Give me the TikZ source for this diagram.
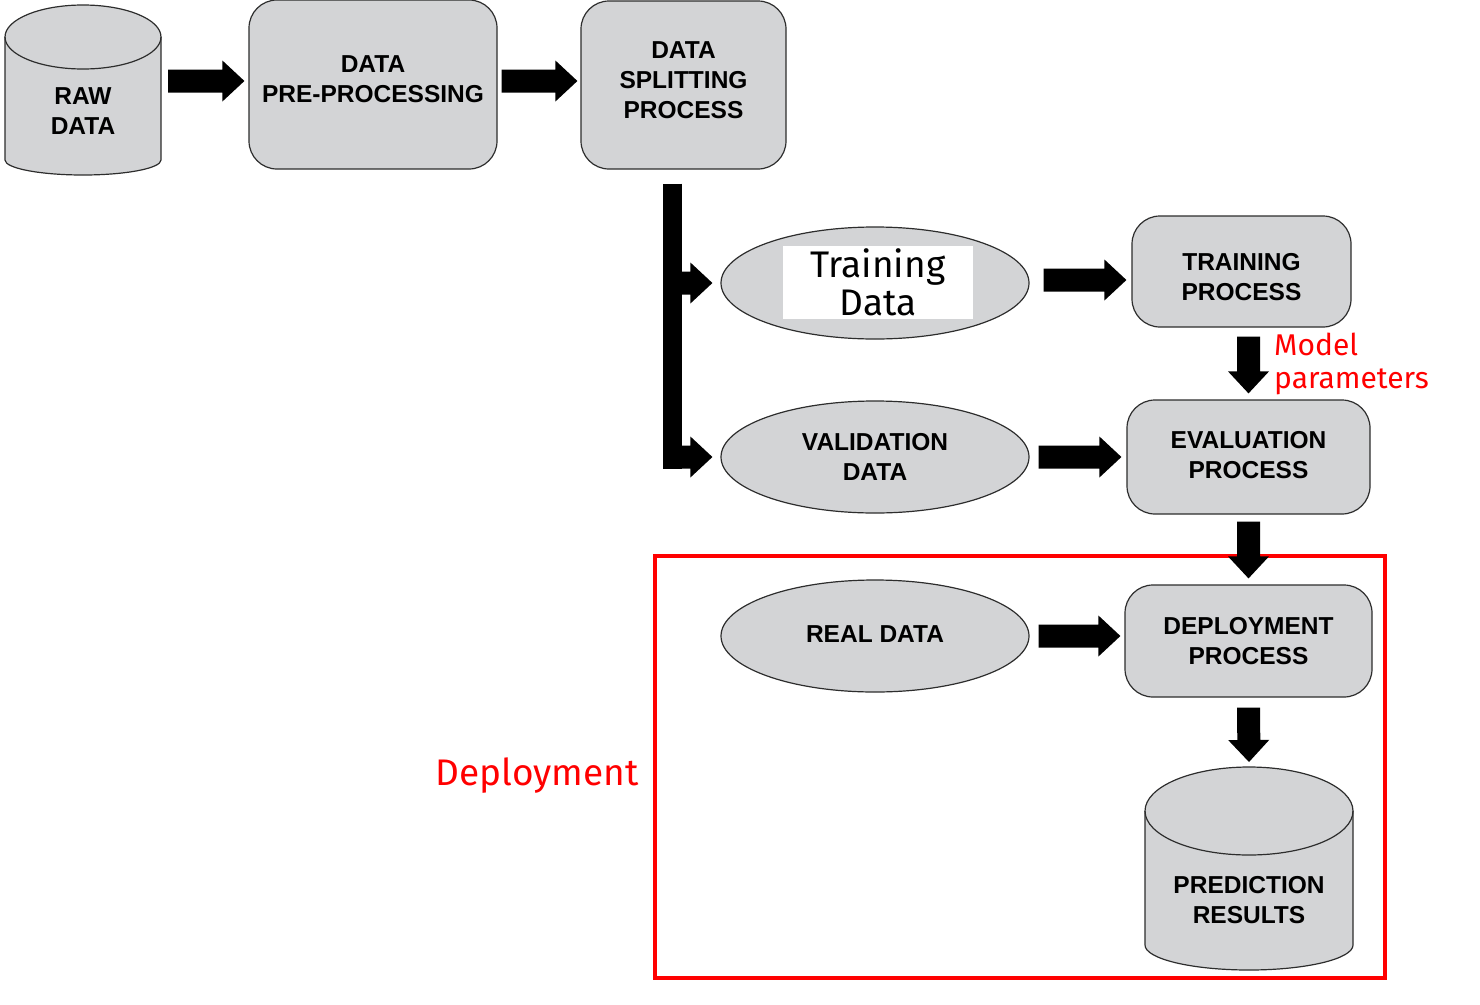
\documentclass[tikz,border=0pt]{standalone}
\usepackage{fontspec}
\setmainfont{Liberation Sans}
\newfontfamily\ubu{Fira Sans}
\usetikzlibrary{shapes.geometric,calc}
\definecolor{gfill}{RGB}{211,212,214}
\definecolor{bord}{RGB}{45,45,45}
\definecolor{pured}{RGB}{255,0,0}
\def\fatsw{11.5pt}\def\fathw{20.5pt}\def\fathl{22pt}
\newcommand\tsh[2]{\raisebox{#1}[\height][\depth]{#2}}
\begin{document}
\begin{tikzpicture}[x=1pt,y=-1pt,
  lbl/.style={font=\fontsize{24.5pt}{30pt}\selectfont\bfseries, align=center, text=black},
  pbox/.style={lbl, draw=bord, fill=gfill, line width=1.2pt, rounded corners=28pt, inner sep=0pt},
  pell/.style={lbl, ellipse, draw=bord, fill=gfill, line width=1.2pt, inner sep=0pt, minimum width=308pt, minimum height=112pt},
  cyl/.style={draw=bord, fill=gfill, line width=1.2pt},
  cylline/.style={draw=bord, line width=1.2pt},
  redlbl/.style={text=pured, font=\ubu\fontsize{30pt}{33pt}\selectfont, align=left, inner sep=0pt},
  fatarrow/.style={fill=black, to path={
    ($(\tikztostart)!\fatsw!90:(\tikztotarget)$)
    -- ($(\tikztotarget)!\fathl!(\tikztostart)!\fatsw!-90:(\tikztostart)$)
    -- ($(\tikztotarget)!\fathl!(\tikztostart)!\fathw!-90:(\tikztostart)$)
    -- (\tikztotarget)
    -- ($(\tikztotarget)!\fathl!(\tikztostart)!\fathw!90:(\tikztostart)$)
    -- ($(\tikztotarget)!\fathl!(\tikztostart)!\fatsw!90:(\tikztostart)$)
    -- ($(\tikztostart)!\fatsw!-90:(\tikztotarget)$)
    -- cycle}}
]
\useasboundingbox (0,0) rectangle (1480,1004);

% cylinders
\path[cyl] (5,37) -- (5,160) arc[start angle=180,end angle=360,x radius=78pt,y radius=15pt]
  -- (161,37) arc[start angle=0,end angle=180,x radius=78pt,y radius=32pt] -- cycle;
\path[cylline] (5,37) arc[start angle=180,end angle=360,x radius=78pt,y radius=32pt];

\path[cyl] (1145,811) -- (1145,945) arc[start angle=180,end angle=360,x radius=104pt,y radius=25pt]
  -- (1353,811) arc[start angle=0,end angle=180,x radius=104pt,y radius=44pt] -- cycle;
\path[cylline] (1145,811) arc[start angle=180,end angle=360,x radius=104pt,y radius=44pt];
\coordinate (predtop) at (1249,767);

% nodes
\node[lbl, minimum width=156pt, minimum height=128pt, inner sep=0pt] (raw) at (83,111) {RAW\\DATA};
\node[pbox, minimum width=248pt, minimum height=169pt] (pre) at (373,84.5) {\tsh{5pt}{DATA}\\\tsh{5pt}{PRE-PROCESSING}};
\node[pbox, minimum width=205pt, minimum height=168pt] (split) at (683.5,85) {\tsh{5pt}{DATA}\\\tsh{5pt}{SPLITTING}\\\tsh{5pt}{PROCESS}};
\node[pell] (trd) at (875,283) {};
\node[fill=white, minimum width=190pt, minimum height=73pt, inner sep=0pt, font=\ubu\fontsize{37pt}{38pt}\selectfont, align=center] (trdtext) at (878,282.5) {Training\\Data};
\node[pell] (val) at (875,457) {VALIDATION\\DATA};
\node[pell] (real) at (875,636) {\tsh{2pt}{REAL DATA}};
\node[pbox, minimum width=219pt, minimum height=111pt] (trp) at (1241.5,271.5) {\tsh{-6pt}{TRAINING}\\\tsh{-6pt}{PROCESS}};
\node[pbox, minimum width=243pt, minimum height=114pt] (evp) at (1248.5,457) {\tsh{2pt}{EVALUATION}\\\tsh{2pt}{PROCESS}};
\node[pbox, minimum width=247pt, minimum height=112pt] (dep) at (1248.5,641) {DEPLOYMENT\\PROCESS};
\node[lbl, minimum width=208pt, minimum height=140pt, inner sep=0pt] (pred) at (1249,900) {PREDICTION\\RESULTS};
\node[redlbl, anchor=north west] (mp) at (1274,333) {Model\\parameters};
\node[redlbl, font=\ubu\fontsize{37pt}{40pt}\selectfont, anchor=base] (deplbl) at (537,785) {Deployment};

% deployment frame
\draw[pured, line width=4pt] (655,556) rectangle (1385,978);

% connectors
\path[fatarrow] ($(raw.east |- pre.west)+(7,-3.5)$) to ($(pre.west)+(-4,-3.5)$);
\path[fatarrow] ($(pre.east)+(4,-3.5)$) to ($(split.west)+(-3,-4)$);
\coordinate (bartop) at ($(split.south)+(-11,14)$);
\coordinate (barbot) at ($(bartop |- val.west)+(0,11.5)$);
\draw[line width=19pt] (bartop) -- (barbot);
\path[fatarrow] (bartop |- trd.west) to ($(trd.west)+(-8,0)$);
\path[fatarrow] (bartop |- val.west) to ($(val.west)+(-8,0)$);
\path[fatarrow] ($(trd.east)+(14,-3)$) to ($(trp.west |- trd.east)+(-5,-3)$);
\path[fatarrow] ($(val.east)+(9,0)$) to ($(evp.west)+(-5,0)$);
\path[fatarrow] ($(real.east)+(9,0)$) to ($(dep.west |- real.east)+(-4,0)$);
\path[fatarrow] ($(evp.north |- trp.south)+(0,9)$) to ($(evp.north)+(0,-6)$);
\path[fatarrow] ($(evp.south)+(0,7)$) to ($(dep.north)+(0,-6)$);
\path[fatarrow] ($(dep.south)+(0,10)$) to ($(predtop)+(0,-5)$);
\end{tikzpicture}
\end{document}
